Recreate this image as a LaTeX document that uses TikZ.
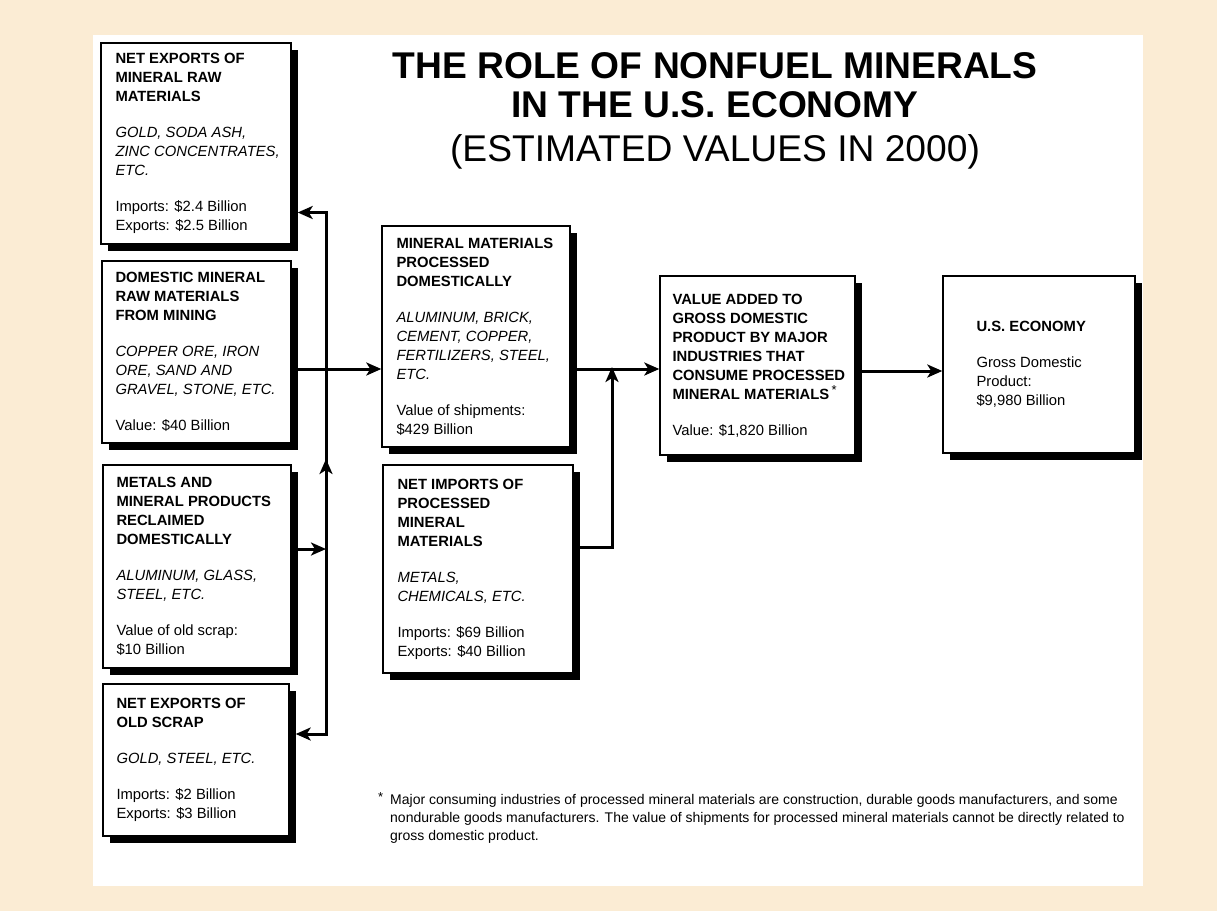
\documentclass[tikz,border=0pt]{standalone}
\usepackage{fontspec}
\setmainfont{Liberation Sans}
\usetikzlibrary{arrows.meta,shadows,decorations.markings}
\definecolor{parch}{RGB}{251,236,212}
\newcommand\bxfont{\fontsize{14.8}{19}\selectfont}
\newcommand\gap{\\[17pt]}
\tikzset{
  box/.style={draw, line width=1.4pt, fill=white, inner sep=0pt,
    drop shadow={shadow xshift=6.5pt, shadow yshift=-6.5pt, opacity=1, fill=black}},
  txt/.style={anchor=west, align=left, inner sep=0pt, font=\bxfont},
  conn/.style={line width=3pt},
  arr/.style={conn, -{Stealth[length=15pt, width=13pt, inset=4pt]}},
  midup/.style={conn, postaction={decorate}, decoration={markings,
    mark=at position 0.5 with {\arrow{Stealth[length=15pt, width=13pt, inset=4pt]}}}},
  ttl/.style={anchor=base, inner sep=0pt}
}
\begin{document}
\begin{tikzpicture}[x=1pt, y=-1pt]
\useasboundingbox (0,0) rectangle (1217,911);
\fill[parch] (0,0) rectangle (1217,911);
\fill[white] (93,35) rectangle (1143,886);

% title
\node[ttl, font=\bfseries\fontsize{37.2}{40}\selectfont] (t1) at (715,78) {THE ROLE OF NONFUEL MINERALS};
\node[ttl, font=\bfseries\fontsize{37.2}{40}\selectfont] (t2) at (715,117) {IN THE U.S. ECONOMY};
\node[ttl, font=\fontsize{37.2}{40}\selectfont] (t3) at (715,161) {(ESTIMATED VALUES IN 2000)};

% boxes
\node[box, minimum width=190pt, minimum height=201pt] (b1) at (196,143.5) {};
\node[box, minimum width=189pt, minimum height=182pt] (b2) at (196.5,352) {};
\node[box, minimum width=188pt, minimum height=203pt] (b3) at (197,566.5) {};
\node[box, minimum width=186pt, minimum height=152pt] (b4) at (196,760) {};
\node[box, minimum width=188pt, minimum height=221pt] (b5) at (476,336.5) {};
\node[box, minimum width=190pt, minimum height=208pt] (b6) at (478,569) {};
\node[box, minimum width=195pt, minimum height=179pt] (b7) at (757.5,365.5) {};
\node[box, minimum width=192pt, minimum height=177pt] (b8) at (1039,364.5) {};

% texts
\node[txt] (x1) at ([xshift=15pt]b1.west) {\textbf{NET EXPORTS OF}\\\textbf{MINERAL RAW}\\\textbf{MATERIALS}\gap
\textit{GOLD, SODA ASH,}\\\textit{ZINC CONCENTRATES,}\\\textit{ETC.}\gap
Imports: \$2.4 Billion\\Exports: \$2.5 Billion};
\node[txt] (x2) at ([xshift=14pt]b2.west) {\textbf{DOMESTIC MINERAL}\\\textbf{RAW MATERIALS}\\\textbf{FROM MINING}\gap
\textit{COPPER ORE, IRON}\\\textit{ORE, SAND AND}\\\textit{GRAVEL, STONE, ETC.}\gap
Value: \$40 Billion};
\node[txt] (x3) at ([xshift=14pt]b3.west) {\textbf{METALS AND}\\\textbf{MINERAL PRODUCTS}\\\textbf{RECLAIMED}\\\textbf{DOMESTICALLY}\gap
\textit{ALUMINUM, GLASS,}\\\textit{STEEL, ETC.}\gap
Value of old scrap:\\\$10 Billion};
\node[txt] (x4) at ([xshift=14pt]b4.west) {\textbf{NET EXPORTS OF}\\\textbf{OLD SCRAP}\gap
\textit{GOLD, STEEL, ETC.}\gap
Imports: \$2 Billion\\Exports: \$3 Billion};
\node[txt] (x5) at ([xshift=15pt]b5.west) {\textbf{MINERAL MATERIALS}\\\textbf{PROCESSED}\\\textbf{DOMESTICALLY}\gap
\textit{ALUMINUM, BRICK,}\\\textit{CEMENT, COPPER,}\\\textit{FERTILIZERS, STEEL,}\\\textit{ETC.}\gap
Value of shipments:\\\$429 Billion};
\node[txt] (x6) at ([xshift=15pt]b6.west) {\textbf{NET IMPORTS OF}\\\textbf{PROCESSED}\\\textbf{MINERAL}\\\textbf{MATERIALS}\gap
\textit{METALS,}\\\textit{CHEMICALS, ETC.}\gap
Imports: \$69 Billion\\Exports: \$40 Billion};
\node[txt] (x7) at ([xshift=13pt]b7.west) {\textbf{VALUE ADDED TO}\\\textbf{GROSS DOMESTIC}\\\textbf{PRODUCT BY MAJOR}\\\textbf{INDUSTRIES THAT}\\\textbf{CONSUME PROCESSED}\\\textbf{MINERAL MATERIALS}\,\raisebox{5pt}{\fontsize{13}{13}\selectfont *}\gap
Value: \$1,820 Billion};
\node[txt] (x8) at ([xshift=34pt]b8.west) {\textbf{U.S. ECONOMY}\gap
Gross Domestic\\Product:\\\$9,980 Billion};

% connectors
\coordinate (jTop) at (326,212.5);
\coordinate (jMid) at (326,369);
\coordinate (jRec) at (326,549);
\coordinate (jBot) at (326,734);
\coordinate (e1) at ([xshift=6pt]b1.east |- jTop);
\coordinate (e4) at ([xshift=6pt]b4.east |- jBot);
\coordinate (jImp) at (612,547);
\coordinate (jMain) at (612,369);

\draw[arr] (b2.east |- jMid) -- (b5.west |- jMid);
\draw[arr] (jMid) -- (jTop) -- (e1);
\draw[midup] (jRec) -- (jMid);
\draw[arr] (jRec) -- (jBot) -- (e4);
\draw[arr] (b3.east |- jRec) -- (jRec);
\draw[arr] (b5.east |- jMain) -- (b7.west |- jMain);
\draw[arr] (b6.east |- jImp) -- (jImp) -- ([yshift=2pt]jMain);
\draw[arr] ([xshift=6pt]b7.east |- 0,371) -- (b8.west |- 0,371);

% footnote
\node[anchor=base west, inner sep=0pt, font=\fontsize{13}{13}\selectfont] (star) at (378,801) {*};
\node[anchor=north west, align=left, inner sep=0pt, font=\fontsize{14}{18}\selectfont] (fn) at (390,794)
{Major consuming industries of processed mineral materials are construction, durable goods manufacturers, and some\\
nondurable goods manufacturers. The value of shipments for processed mineral materials cannot be directly related to\\
gross domestic product.};
\end{tikzpicture}
\end{document}
